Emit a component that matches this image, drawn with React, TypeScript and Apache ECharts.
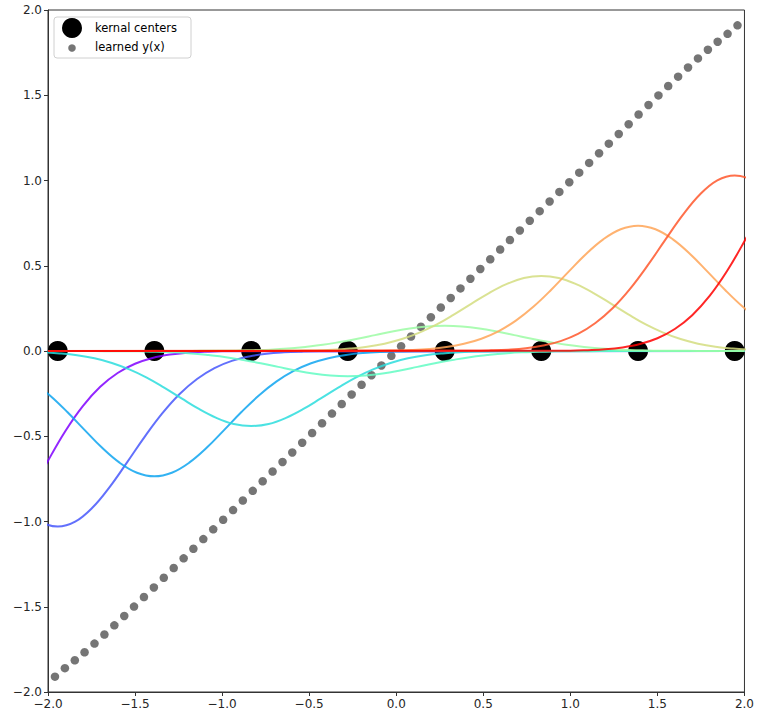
import React, { useEffect, useRef } from "react";
import * as echarts from "echarts";

// ---- data ----
const kernelCenters = [-2.5, -1.944, -1.389, -0.833, -0.278, 0.278, 0.833, 1.389, 1.944, 2.5];
const visibleCenters = [-1.944, -1.389, -0.833, -0.278, 0.278, 0.833, 1.389, 1.944];

// offsets from each kernel centre at which the weighted kernels were read
const kernelOffsets = [
  -1.5, -1.4, -1.3, -1.2, -1.1, -1.0, -0.9, -0.8, -0.7, -0.6, -0.5, -0.4, -0.3, -0.2, -0.1, 0,
  0.1, 0.2, 0.3, 0.4, 0.5, 0.6, 0.7, 0.8, 0.9, 1.0, 1.1, 1.2, 1.3, 1.4, 1.5,
];

const kernel0 = [-0.002, -0.005, -0.010, -0.021, -0.041, -0.075, -0.129, -0.210, -0.323, -0.469, -0.644, -0.833, -1.019, -1.177, -1.283, -1.320, -1.283, -1.177, -1.019, -0.833, -0.644, -0.469, -0.323, -0.210, -0.129, -0.075, -0.041, -0.021, -0.010, -0.005, -0.002];
const kernel1 = [-0.002, -0.004, -0.008, -0.016, -0.032, -0.058, -0.100, -0.164, -0.252, -0.366, -0.502, -0.650, -0.795, -0.918, -1.001, -1.030, -1.001, -0.918, -0.795, -0.650, -0.502, -0.366, -0.252, -0.164, -0.100, -0.058, -0.032, -0.016, -0.008, -0.004, -0.002];
const kernel2 = [-0.001, -0.003, -0.006, -0.012, -0.023, -0.042, -0.072, -0.117, -0.180, -0.261, -0.358, -0.464, -0.568, -0.655, -0.714, -0.735, -0.714, -0.655, -0.568, -0.464, -0.358, -0.261, -0.180, -0.117, -0.072, -0.042, -0.023, -0.012, -0.006, -0.003, -0.001];
const kernel3 = [-0.001, -0.002, -0.003, -0.007, -0.014, -0.025, -0.043, -0.070, -0.108, -0.156, -0.215, -0.278, -0.340, -0.392, -0.428, -0.440, -0.428, -0.392, -0.340, -0.278, -0.215, -0.156, -0.108, -0.070, -0.043, -0.025, -0.014, -0.007, -0.003, -0.002, -0.001];
const kernel4 = [0.000, -0.001, -0.001, -0.002, -0.005, -0.008, -0.014, -0.024, -0.036, -0.053, -0.072, -0.093, -0.114, -0.132, -0.144, -0.148, -0.144, -0.132, -0.114, -0.093, -0.072, -0.053, -0.036, -0.024, -0.014, -0.008, -0.005, -0.002, -0.001, -0.001, 0.000];
const kernel5 = [0.000, 0.001, 0.001, 0.002, 0.005, 0.008, 0.014, 0.024, 0.036, 0.053, 0.072, 0.093, 0.114, 0.132, 0.144, 0.148, 0.144, 0.132, 0.114, 0.093, 0.072, 0.053, 0.036, 0.024, 0.014, 0.008, 0.005, 0.002, 0.001, 0.001, 0.000];
const kernel6 = [0.001, 0.002, 0.003, 0.007, 0.014, 0.025, 0.043, 0.070, 0.108, 0.156, 0.215, 0.278, 0.340, 0.392, 0.428, 0.440, 0.428, 0.392, 0.340, 0.278, 0.215, 0.156, 0.108, 0.070, 0.043, 0.025, 0.014, 0.007, 0.003, 0.002, 0.001];
const kernel7 = [0.001, 0.003, 0.006, 0.012, 0.023, 0.042, 0.072, 0.117, 0.180, 0.261, 0.358, 0.464, 0.568, 0.655, 0.714, 0.735, 0.714, 0.655, 0.568, 0.464, 0.358, 0.261, 0.180, 0.117, 0.072, 0.042, 0.023, 0.012, 0.006, 0.003, 0.001];
const kernel8 = [0.002, 0.004, 0.008, 0.016, 0.032, 0.058, 0.100, 0.164, 0.252, 0.366, 0.502, 0.650, 0.795, 0.918, 1.001, 1.030, 1.001, 0.918, 0.795, 0.650, 0.502, 0.366, 0.252, 0.164, 0.100, 0.058, 0.032, 0.016, 0.008, 0.004, 0.002];
const kernel9 = [0.002, 0.005, 0.010, 0.021, 0.041, 0.075, 0.129, 0.210, 0.323, 0.469, 0.644, 0.833, 1.019, 1.177, 1.283, 1.320, 1.283, 1.177, 1.019, 0.833, 0.644, 0.469, 0.323, 0.210, 0.129, 0.075, 0.041, 0.021, 0.010, 0.005, 0.002];
const kernelValues = [kernel0, kernel1, kernel2, kernel3, kernel4, kernel5, kernel6, kernel7, kernel8, kernel9];

const kernelColors = [
  "#8000ff", "#4757fb", "#0ea4f0", "#2bdddd", "#63fbc3",
  "#9cfba4", "#d4dd80", "#ffa457", "#ff572c", "#ff0000",
];

const learnedX = [
  -1.960, -1.903, -1.846, -1.790, -1.733, -1.676, -1.619, -1.562, -1.506, -1.449,
  -1.392, -1.335, -1.278, -1.221, -1.165, -1.108, -1.051, -0.994, -0.937, -0.881,
  -0.824, -0.767, -0.710, -0.653, -0.597, -0.540, -0.483, -0.426, -0.369, -0.313,
  -0.256, -0.199, -0.142, -0.085, -0.028,
  0.028, 0.085, 0.142, 0.199, 0.256, 0.313, 0.369, 0.426, 0.483, 0.540,
  0.597, 0.653, 0.710, 0.767, 0.824, 0.881, 0.937, 0.994, 1.051, 1.108,
  1.165, 1.221, 1.278, 1.335, 1.392, 1.449, 1.506, 1.562, 1.619, 1.676,
  1.733, 1.790, 1.846, 1.903, 1.960,
];
const learnedY = [
  -1.910, -1.860, -1.814, -1.767, -1.716, -1.663, -1.609, -1.554, -1.499, -1.443,
  -1.387, -1.330, -1.273, -1.216, -1.160, -1.103, -1.046, -0.990, -0.933, -0.877,
  -0.820, -0.764, -0.707, -0.651, -0.595, -0.538, -0.481, -0.424, -0.367, -0.311,
  -0.255, -0.198, -0.142, -0.085, -0.028,
  0.028, 0.085, 0.142, 0.198, 0.255, 0.311, 0.367, 0.424, 0.481, 0.538,
  0.595, 0.651, 0.707, 0.764, 0.820, 0.877, 0.933, 0.990, 1.046, 1.103,
  1.160, 1.216, 1.273, 1.330, 1.387, 1.443, 1.499, 1.554, 1.609, 1.663,
  1.716, 1.767, 1.814, 1.860, 1.910,
];

const axisMin = -2;
const axisMax = 2;
const tickStep = 0.5;

const FONT = "DejaVu Sans";

const fmt = (v: number) => v.toFixed(1).replace("-", "\u2212");

export default function App() {
  const ref = useRef<HTMLDivElement>(null);

  useEffect(() => {
    document.body.style.margin = "0";
    if (!ref.current) return;
    const chart = echarts.init(ref.current, undefined, { renderer: "svg" });

    const lineSeries = kernelValues.map((vals, k) => {
      const c = kernelCenters[k];
      const pts: number[][] = [];
      if (c + kernelOffsets[0] > axisMin) pts.push([axisMin, 0]);
      kernelOffsets.forEach((d, i) => pts.push([c + d, vals[i]]));
      if (c + kernelOffsets[kernelOffsets.length - 1] < axisMax) pts.push([axisMax, 0]);
      return {
        type: "line",
        name: "kernel " + k,
        data: pts,
        smooth: 0.4,
        showSymbol: false,
        symbol: "none",
        clip: true,
        silent: true,
        lineStyle: { color: kernelColors[k], width: 2, opacity: 0.85 },
        z: 3,
      };
    });

    const axisCommon = {
      type: "value",
      min: axisMin,
      max: axisMax,
      interval: tickStep,
      splitLine: { show: false },
      axisLine: { show: true, onZero: false, lineStyle: { color: "#333", width: 1 } },
      axisTick: { show: true, inside: false, length: 4, lineStyle: { color: "#333", width: 1 } },
    };

    const labelStyle = {
      show: true, margin: 6, fontFamily: FONT, fontSize: 12, color: "#262626",
      showMinLabel: true, showMaxLabel: true, formatter: fmt,
    };

    chart.setOption({
      animation: false,
      grid: { left: 48, top: 10, width: 701, height: 682, show: true, borderColor: "#333", borderWidth: 1, backgroundColor: "transparent" },
      xAxis: { ...axisCommon, axisLabel: labelStyle },
      yAxis: { ...axisCommon, axisLabel: labelStyle },
      series: [
        {
          type: "scatter",
          name: "kernal centers",
          data: visibleCenters.map((c) => [c, 0]),
          symbol: "circle",
          symbolSize: 20,
          itemStyle: { color: "#000000", opacity: 1 },
          silent: true,
          z: 2,
        },
        {
          type: "scatter",
          name: "learned y(x)",
          data: learnedX.map((x, i) => [x, learnedY[i]]),
          symbol: "circle",
          symbolSize: 8.5,
          itemStyle: { color: "#757575", opacity: 1 },
          silent: true,
          z: 2,
        },
        ...lineSeries,
      ],
      graphic: [
        {
          type: "group",
          z: 100,
          children: [
            {
              type: "rect",
              shape: { x: 54, y: 17, width: 137, height: 41, r: 3 },
              style: { fill: "rgba(255,255,255,0.85)", stroke: "#d0d0d0", lineWidth: 1 },
              z: 100,
            },
            { type: "circle", shape: { cx: 72, cy: 28, r: 10 }, style: { fill: "#000" }, z: 101 },
            { type: "circle", shape: { cx: 72, cy: 48, r: 3.8 }, style: { fill: "#757575" }, z: 101 },
            {
              type: "text", x: 95, y: 28, z: 101,
              style: { text: "kernal centers", fontFamily: FONT, fontSize: 11.5, fill: "#000", verticalAlign: "middle", align: "left" },
            },
            {
              type: "text", x: 95, y: 47, z: 101,
              style: { text: "learned y(x)", fontFamily: FONT, fontSize: 11.5, fill: "#000", verticalAlign: "middle", align: "left" },
            },
          ],
        },
      ],
    });

    return () => chart.dispose();
  }, []);

  return <div ref={ref} style={{ width: 757, height: 719 }} />;
}
